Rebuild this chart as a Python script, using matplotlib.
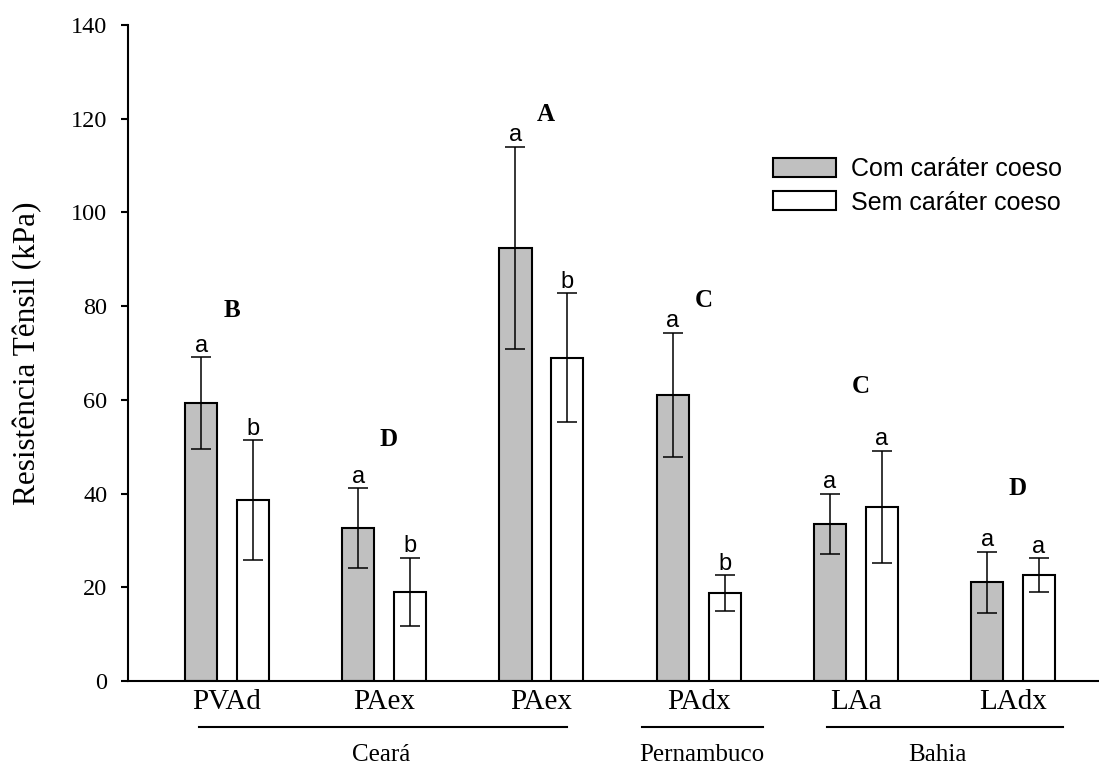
import numpy as np
import matplotlib.pyplot as plt
from matplotlib.transforms import blended_transform_factory

# data
solos = ['PVAd', 'PAex', 'PAex', 'PAdx', 'LAa', 'LAdx']
com = [59.3, 32.6, 92.4, 61.0, 33.5, 21.1]
com_err = [9.8, 8.5, 21.6, 13.3, 6.4, 6.5]
sem = [38.6, 19.0, 69.0, 18.8, 37.1, 22.6]
sem_err = [12.8, 7.3, 13.7, 3.8, 12.0, 3.6]
let_com = ['a', 'a', 'a', 'a', 'a', 'a']
let_sem = ['b', 'b', 'b', 'b', 'a', 'a']
grupo = ['B', 'D', 'A', 'C', 'C', 'D']
grupo_y = [79.0, 51.6, 120.8, 81.3, 62.8, 41.0]
estados = ['Ceará', 'Pernambuco', 'Bahia']

serif = 'Liberation Serif'
sans = 'Liberation Sans'

fig = plt.figure(figsize=(10.99, 7.67), dpi=100)
ax = fig.add_axes([128/1099, 86/767, 971/1099, 656/767])

x = np.arange(len(solos))
w = 0.204
off = 0.165

ax.bar(x - off, com, w, color='#c0c0c0', edgecolor='black', linewidth=1.5,
       label='Com caráter coeso', zorder=2)
ax.bar(x + off, sem, w, color='white', edgecolor='black', linewidth=1.5,
       label='Sem caráter coeso', zorder=2)
ax.errorbar(x - off, com, yerr=com_err, fmt='none', ecolor='black',
            elinewidth=1.1, capsize=7.2, capthick=1.1, zorder=3)
ax.errorbar(x + off, sem, yerr=sem_err, fmt='none', ecolor='black',
            elinewidth=1.1, capsize=7.2, capthick=1.1, zorder=3)

for i in range(len(solos)):
    ax.annotate(let_com[i], (x[i] - off, com[i] + com_err[i]), xytext=(0, 4),
                textcoords='offset points', ha='center', va='baseline',
                fontsize=17, family=sans)
    ax.annotate(let_sem[i], (x[i] + off, sem[i] + sem_err[i]), xytext=(0, 4),
                textcoords='offset points', ha='center', va='baseline',
                fontsize=17, family=sans)
    ax.text(x[i] + 0.03, grupo_y[i], grupo[i], ha='center', va='center',
            fontsize=18, fontweight='bold', family=serif)

ax.set_xlim(-0.63, 5.547)
ax.set_ylim(0, 140)
ax.set_yticks(np.arange(0, 141, 20))
ax.set_xticks(x)
ax.set_xticklabels(solos, family=serif, fontsize=21)
for lab in ax.get_yticklabels():
    lab.set_family(serif)
    lab.set_fontsize(17.5)
ax.tick_params(axis='y', length=5, width=1.5, direction='out', pad=10)
ax.tick_params(axis='x', length=0, pad=5.5)
for s in ['top', 'right']:
    ax.spines[s].set_visible(False)
for s in ['left', 'bottom']:
    ax.spines[s].set_linewidth(1.5)

fig.text(28/1099, 1 - 353/767, 'Resistência Tênsil (kPa)', rotation=90,
         ha='center', va='center', fontsize=22.5, family=serif)

# state brackets under the tick labels
tr = blended_transform_factory(ax.transData, ax.transAxes)
spans = [(-0.178, 2.163), (2.64, 3.41), (3.817, 5.318)]
centros = [0.982, 3.02, 4.52]
for (a, b), c, nome in zip(spans, centros, estados):
    ax.plot([a, b], [-0.07, -0.07], color='black', linewidth=1.5,
            transform=tr, clip_on=False)
    ax.text(c, -0.113, nome, transform=tr, ha='center', va='center',
            fontsize=18, family=serif)

leg = ax.legend(loc='upper left', bbox_to_anchor=(773/1099, 1 - 157/767),
                bbox_transform=fig.transFigure, frameon=False, borderpad=0,
                prop={'family': sans, 'size': 18}, handlelength=2.5,
                handleheight=0.78, handletextpad=0.62, labelspacing=0.38,
                borderaxespad=0)

fig.savefig('out.png', dpi=100)
